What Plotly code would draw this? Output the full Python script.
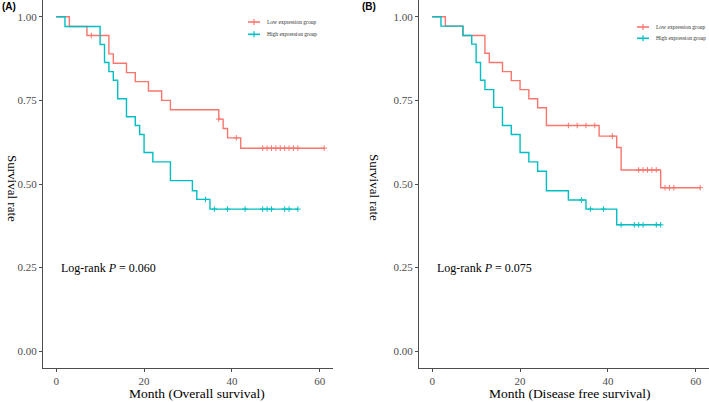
import plotly.graph_objects as go

# ---------------- data ----------------
os_low_time = [0, 3, 7, 12, 13, 16, 18, 21, 24, 26, 37, 38, 39, 42, 61]
os_low_surv = [1.0, 0.971, 0.944, 0.889, 0.861, 0.833, 0.806, 0.778, 0.750, 0.722, 0.694, 0.666, 0.638, 0.607, 0.607]
os_low_cens = [8, 37, 41, 47, 48, 49, 50, 51, 52, 53, 54, 55, 61]

os_high_time = [0, 2, 10, 11, 12, 13, 14, 16, 18, 19, 20, 22, 26, 31, 32, 35, 55]
os_high_surv = [1.0, 0.971, 0.917, 0.863, 0.836, 0.810, 0.755, 0.701, 0.675, 0.648, 0.594, 0.566, 0.510, 0.480, 0.454, 0.425, 0.425]
os_high_cens = [34, 36, 39, 43, 47, 48, 49, 52, 53, 55]

dfs_low_time = [0, 3, 7, 12, 13, 16, 18, 20, 22, 24, 26, 38, 42, 43, 52, 61]
dfs_low_surv = [1.0, 0.972, 0.944, 0.891, 0.863, 0.836, 0.809, 0.782, 0.755, 0.728, 0.675, 0.643, 0.609, 0.542, 0.489, 0.489]
dfs_low_cens = [31, 33, 35, 37, 41, 47, 48, 49, 50, 51, 53, 54, 55, 61]

dfs_high_time = [0, 2, 7, 9, 10, 11, 12, 14, 16, 18, 20, 22, 24, 26, 31, 35, 42, 52]
dfs_high_surv = [1.0, 0.972, 0.944, 0.918, 0.863, 0.810, 0.782, 0.729, 0.675, 0.648, 0.594, 0.566, 0.538, 0.480, 0.452, 0.425, 0.378, 0.378]
dfs_high_cens = [34, 36, 39, 43, 46, 47, 48, 51, 52]

group_names = ["Low expression group", "High expression group"]
x_ticks = [0, 20, 40, 60]
y_ticks = [0.0, 0.25, 0.50, 0.75, 1.00]
p_values = ["0.060", "0.075"]
x_titles = ["Month (Overall survival)", "Month (Disease free survival)"]
panel_labels = ["(A)", "(B)"]

RED = "#F8766D"
TEAL = "#00BFC4"
W, H = 709, 402
SERIF = "Liberation Serif, Times New Roman, serif"


def surv_at(times, surv, t):
    v = surv[0]
    for ti, si in zip(times, surv):
        if ti <= t:
            v = si
    return v


fig = go.Figure()

panels = [
    ("x", "y", (os_low_time, os_low_surv, os_low_cens), (os_high_time, os_high_surv, os_high_cens)),
    ("x2", "y2", (dfs_low_time, dfs_low_surv, dfs_low_cens), (dfs_high_time, dfs_high_surv, dfs_high_cens)),
]

for xa, ya, low, high in panels:
    for (times, surv, cens), col in [(low, RED), (high, TEAL)]:
        fig.add_trace(go.Scatter(x=times, y=surv, mode="lines", line=dict(color=col, width=1.4, shape="hv"),
                                 xaxis=xa, yaxis=ya, showlegend=False, hoverinfo="skip"))
        fig.add_trace(go.Scatter(x=cens, y=[surv_at(times, surv, c) for c in cens], mode="markers",
                                 marker=dict(symbol="cross-thin", size=4, line=dict(color=col, width=1)),
                                 xaxis=xa, yaxis=ya, showlegend=False, hoverinfo="skip"))

dom1 = [43 / W, 333 / W]
dom2 = [419 / W, 1.0]
ydom = [1 - 368 / H, 1.0]

axis_common = dict(showgrid=False, zeroline=False, showline=True, linecolor="#4d4d4d", linewidth=1,
                   ticks="outside", ticklen=3, tickcolor="#4d4d4d", tickwidth=1,
                   tickfont=dict(family=SERIF, size=11, color="#4d4d4d"))
fig.update_layout(
    width=W, height=H, margin=dict(l=0, r=0, t=0, b=0),
    paper_bgcolor="white", plot_bgcolor="white",
    xaxis=dict(domain=dom1, range=[-3, 63], tickvals=x_ticks, anchor="y", **axis_common),
    yaxis=dict(domain=ydom, range=[-0.05, 1.05], tickvals=y_ticks, tickformat=".2f", anchor="x", **axis_common),
    xaxis2=dict(domain=dom2, range=[-3, 63], tickvals=x_ticks, anchor="y2", **axis_common),
    yaxis2=dict(domain=ydom, range=[-0.05, 1.05], tickvals=y_ticks, tickformat=".2f", anchor="x2", **axis_common),
)

ann = []
shapes = []
panel_px = [
    dict(ylab_x=13, xtitle_x=197, tag_x=0, leg_x0=248, leg_y=[22, 34.3], xref="x", yref="y"),
    dict(ylab_x=375, xtitle_x=570, tag_x=360, leg_x0=637, leg_y=[27, 38.3], xref="x2", yref="y2"),
]
for i, p in enumerate(panel_px):
    ann.append(dict(text="Survival rate", x=p["ylab_x"] / W, y=1 - 188 / H, xref="paper", yref="paper",
                    xanchor="center", yanchor="middle",
                    textangle=90, showarrow=False, font=dict(family=SERIF, size=13, color="black")))
    ann.append(dict(text=x_titles[i], x=p["xtitle_x"] / W, y=1 - 393 / H, xref="paper", yref="paper",
                    xanchor="center", yanchor="middle",
                    showarrow=False, font=dict(family=SERIF, size=13.5, color="black")))
    ann.append(dict(text="<b>" + panel_labels[i] + "</b>", x=p["tag_x"] / W, y=1 - 7 / H, xref="paper",
                    yref="paper", xanchor="left", yanchor="middle", showarrow=False,
                    font=dict(family="Liberation Sans, Arial, sans-serif", size=10, color="black")))
    ann.append(dict(text="Log-rank <i>P</i> = " + p_values[i], x=0.7, y=0.25, xref=p["xref"], yref=p["yref"],
                    xanchor="left", yanchor="middle", showarrow=False,
                    font=dict(family=SERIF, size=12, color="black")))
    for col, ly, name in zip([RED, TEAL], p["leg_y"], group_names):
        x0 = p["leg_x0"] / W
        x1 = (p["leg_x0"] + 12) / W
        xm = (p["leg_x0"] + 6) / W
        yy = 1 - ly / H
        shapes.append(dict(type="line", xref="paper", yref="paper", x0=x0, x1=x1, y0=yy, y1=yy,
                           line=dict(color=col, width=1.6)))
        shapes.append(dict(type="line", xref="paper", yref="paper", x0=xm, x1=xm, y0=yy - 3 / H, y1=yy + 3 / H,
                           line=dict(color=col, width=1.2)))
        ann.append(dict(text=name, x=(p["leg_x0"] + 17) / W, y=yy, xref="paper", yref="paper",
                        xanchor="left", yanchor="middle", showarrow=False,
                        font=dict(family=SERIF, size=5.5, color="#333333")))

fig.update_layout(annotations=ann, shapes=shapes)
fig.write_html("out.html", config={"displayModeBar": False},
               post_script="document.body.style.margin='0';document.body.style.overflow='hidden';")
